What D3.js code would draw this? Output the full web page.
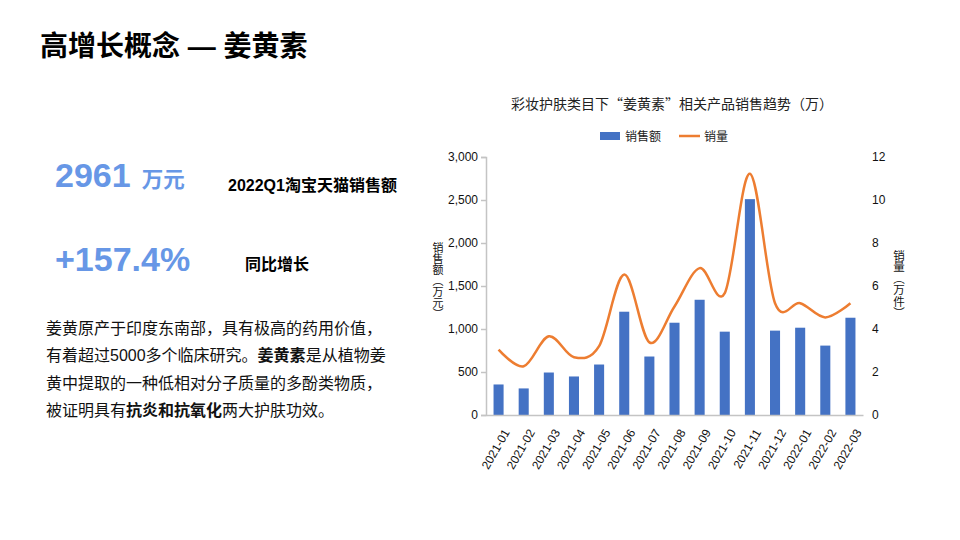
<!DOCTYPE html>
<html>
<head>
<meta charset="utf-8">
<script src="https://cdn.jsdelivr.net/npm/d3@7"></script>
<style>
  body { margin: 0; background: #fff; }
  svg { display: block; font-family: "Liberation Sans", Arial, "Noto Sans CJK SC", sans-serif; }
</style>
</head>
<body>
<script>
var width = 960, height = 540;

// data
var months = ['2021-01','2021-02','2021-03','2021-04','2021-05','2021-06','2021-07',
  '2021-08','2021-09','2021-10','2021-11','2021-12','2022-01','2022-02','2022-03'];
var sales = [355, 309, 494, 448, 587, 1201, 680, 1073, 1340, 969, 2510, 981, 1015, 807, 1131];   // 销售额 (万元)
var volume = [3.04, 2.27, 3.66, 2.69, 3.2, 6.53, 3.38, 5.05, 6.83, 5.67, 11.22, 5.2, 5.2, 4.54, 5.2]; // 销量 (万件)
var leftTicks = [0, 500, 1000, 1500, 2000, 2500, 3000];
var rightTicks = [0, 2, 4, 6, 8, 10, 12];

var barColor = '#4472C4', lineColor = '#ED7D31', axisColor = '#c4c4c4';
var cjk = '"Noto Sans CJK SC", sans-serif';
var latin = '"Liberation Sans", Arial, sans-serif';

var svg = d3.select('body').append('svg').attr('width', width).attr('height', height);

// ---- left text panel ----
svg.append('text').attr('x', 40).attr('y', 56)
  .attr('font-size', 28).attr('font-weight', 'bold').attr('fill', '#000')
  .text('高增长概念 — 姜黄素');

var blue = '#6797E6';
var t1 = svg.append('text').attr('x', 55).attr('y', 187).attr('fill', blue).attr('font-weight', 'bold');
t1.append('tspan').attr('font-size', 34).text('2961');
t1.append('tspan').attr('font-size', 21.5).attr('dx', 11).text('万元');

svg.append('text').attr('x', 228).attr('y', 191)
  .attr('font-size', 16).attr('font-weight', 'bold').text('2022Q1淘宝天猫销售额');

svg.append('text').attr('x', 55).attr('y', 271).attr('fill', blue)
  .attr('font-weight', 'bold').attr('font-size', 34).text('+157.4%');

svg.append('text').attr('x', 245).attr('y', 270)
  .attr('font-size', 16).attr('font-weight', 'bold').text('同比增长');

// paragraph, [text, bold] segments per line
var para = [
  [['姜黄原产于印度东南部，具有极高的药用价值，', false]],
  [['有着超过5000多个临床研究。', false], ['姜黄素', true], ['是从植物姜', false]],
  [['黄中提取的一种低相对分子质量的多酚类物质，', false]],
  [['被证明具有', false], ['抗炎和抗氧化', true], ['两大护肤功效。', false]]
];
para.forEach(function(line, i) {
  var t = svg.append('text').attr('x', 46).attr('y', 334 + i * 27.3)
    .attr('font-size', 16).attr('fill', '#111');
  line.forEach(function(seg) {
    t.append('tspan').attr('font-weight', seg[1] ? 'bold' : 'normal').text(seg[0]);
  });
});

// ---- chart ----
var x0 = 486, x1 = 863, yTop = 157, yBot = 415;

var x = d3.scaleBand().domain(months).range([x0, x1]).paddingInner(0.6).paddingOuter(0.3);
var yL = d3.scaleLinear().domain([0, 3000]).range([yBot, yTop]);
var yR = d3.scaleLinear().domain([0, 12]).range([yBot, yTop]);

svg.append('text').attr('x', 672).attr('y', 109).attr('text-anchor', 'middle')
  .attr('font-size', 14).attr('fill', '#222').attr('font-family', cjk)
  .text('彩妆护肤类目下“姜黄素”相关产品销售趋势（万）');

// legend
var lg = svg.append('g');
lg.append('rect').attr('x', 600).attr('y', 132).attr('width', 20).attr('height', 8).attr('fill', barColor);
lg.append('text').attr('x', 625).attr('y', 140.5).attr('font-size', 12).attr('fill', '#222').text('销售额');
lg.append('line').attr('x1', 679).attr('x2', 700).attr('y1', 136).attr('y2', 136)
  .attr('stroke', lineColor).attr('stroke-width', 2.5);
lg.append('text').attr('x', 704).attr('y', 140.5).attr('font-size', 12).attr('fill', '#222').text('销量');

// bars
svg.append('g').selectAll('rect').data(sales).join('rect')
  .attr('x', function(d, i) { return x(months[i]); })
  .attr('y', function(d) { return yL(d); })
  .attr('width', x.bandwidth())
  .attr('height', function(d) { return yBot - yL(d); })
  .attr('fill', barColor);

// line
var line = d3.line()
  .x(function(d, i) { return x(months[i]) + x.bandwidth() / 2; })
  .y(function(d) { return yR(d); })
  .curve(d3.curveCardinal.tension(0));
svg.append('path').datum(volume).attr('d', line)
  .attr('fill', 'none').attr('stroke', lineColor).attr('stroke-width', 2.5);

// left axis
var gL = svg.append('g').attr('transform', 'translate(' + x0 + ',0)')
  .call(d3.axisLeft(yL).tickValues(leftTicks).tickSize(5).tickPadding(3).tickFormat(d3.format(',')));
gL.select('.domain').attr('stroke', axisColor).attr('stroke-width', 1.5);
gL.selectAll('.tick line').attr('stroke', axisColor).attr('stroke-width', 1.5);
gL.selectAll('text').attr('font-size', 12).attr('fill', '#111').attr('font-family', latin);

// right axis
var gR = svg.append('g').attr('transform', 'translate(' + x1 + ',0)')
  .call(d3.axisRight(yR).tickValues(rightTicks).tickSize(0).tickPadding(9));
gR.select('.domain').remove();
gR.selectAll('text').attr('font-size', 12).attr('fill', '#111').attr('font-family', latin);

// bottom axis
var gB = svg.append('g').attr('transform', 'translate(0,' + yBot + ')')
  .call(d3.axisBottom(x).tickSize(0).tickPadding(0));
gB.select('.domain').attr('stroke', axisColor).attr('stroke-width', 1.5);
gB.selectAll('text')
  .attr('font-size', 12).attr('fill', '#111').attr('font-family', latin)
  .attr('text-anchor', 'end')
  .attr('dy', '0.35em')
  .attr('transform', 'translate(8,15) rotate(-60)');

// axis titles, vertical writing with upright characters
svg.append('text').attr('x', 438).attr('y', 281)
  .attr('font-size', 11).attr('fill', '#111').attr('font-family', cjk)
  .style('writing-mode', 'vertical-rl').style('text-orientation', 'upright')
  .attr('text-anchor', 'middle')
  .text('销售额（万元）');
svg.append('text').attr('x', 899).attr('y', 284)
  .attr('font-size', 11.5).attr('fill', '#111').attr('font-family', cjk)
  .style('writing-mode', 'vertical-rl').style('text-orientation', 'upright')
  .attr('text-anchor', 'middle')
  .text('销量（万件）');
</script>
</body>
</html>
